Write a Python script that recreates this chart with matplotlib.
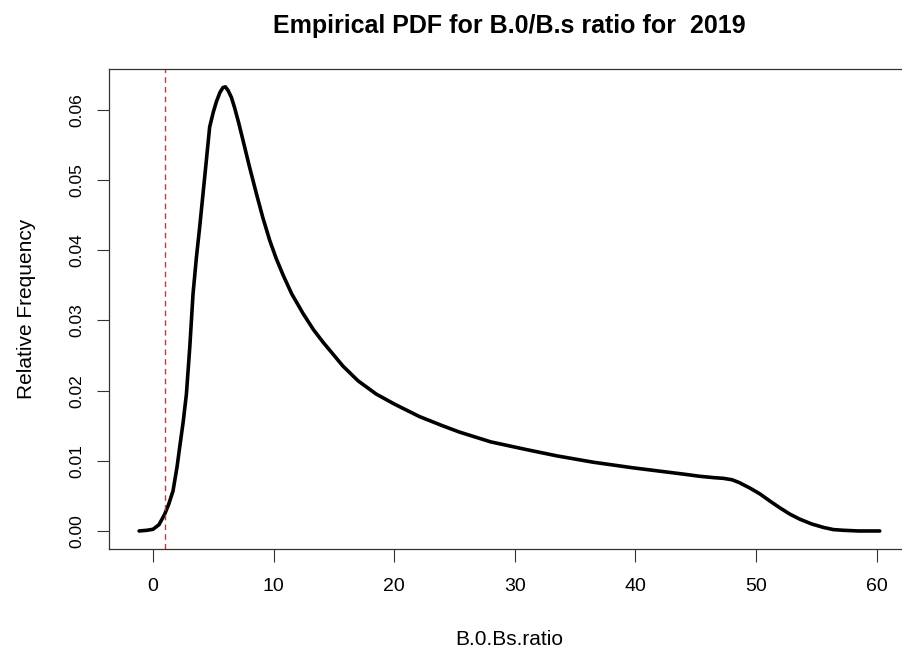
import matplotlib.pyplot as plt

plt.rcParams['font.family'] = ['Liberation Sans', 'DejaVu Sans']

# density estimate
ratio = [-1.15, -0.5, 0.0, 0.5, 0.97, 1.3, 1.66, 2.0, 2.21, 2.5, 2.77, 3.05, 3.32,
         3.6, 3.87, 4.29, 4.70, 5.0, 5.26, 5.55, 5.80, 6.0, 6.22, 6.5, 6.77, 7.1,
         7.46, 8.0, 8.57, 9.1, 9.68, 10.2, 10.78, 11.5, 12.44, 13.3, 14.1, 15.75,
         17.0, 18.52, 20.0, 22.1, 24.0, 25.4, 28.0, 30.96, 33.5, 36.5, 39.8, 42.6,
         44.0, 45.3, 46.5, 47.3, 48.0, 48.6, 49.5, 50.3, 51.2, 51.97, 52.8, 53.6,
         54.6, 55.6, 56.4, 57.2, 58.5, 60.25]
density = [0.0, 0.0001, 0.00024, 0.0009, 0.0024, 0.0038, 0.0057, 0.0092, 0.0119,
           0.0155, 0.0195, 0.0262, 0.0338, 0.0390, 0.0433, 0.0505, 0.0576, 0.0597,
           0.0612, 0.0625, 0.0632, 0.0633, 0.0628, 0.0618, 0.0603, 0.0582, 0.0557,
           0.0519, 0.0481, 0.0447, 0.0414, 0.0389, 0.0365, 0.0338, 0.0310, 0.0287,
           0.0269, 0.0235, 0.0214, 0.0195, 0.0181, 0.0163, 0.0150, 0.0141, 0.0127,
           0.0116, 0.0107, 0.0098, 0.0090, 0.0084, 0.0081, 0.0078, 0.0076, 0.0075,
           0.0073, 0.0069, 0.0061, 0.0053, 0.0042, 0.0033, 0.0024, 0.0017, 0.0010,
           0.0005, 0.0002, 0.0001, 0.0, 0.0]
cutoff = 1.0
xticks = [0, 10, 20, 30, 40, 50, 60]
yticks = [0.00, 0.01, 0.02, 0.03, 0.04, 0.05, 0.06]

fig = plt.figure(figsize=(9.02, 6.49), dpi=100)
ax = fig.add_axes([0.1212, 0.1545, 0.8877, 0.7387])

ax.plot(ratio, density, color='black', lw=2.6, solid_capstyle='round', solid_joinstyle='round')
ax.axvline(cutoff, color='#ff2020', ls=(0, (4, 3)), lw=1)

ax.set_xlim(-3.62, 62.76)
ax.set_ylim(-0.00253, 0.0658)
ax.set_xticks(xticks)
ax.set_xticklabels([str(t) for t in xticks])
ax.set_yticks(yticks)
ax.set_yticklabels(['%.2f' % t for t in yticks], rotation=90, va='center')
ax.tick_params(length=9, width=0.8, colors='#333333', labelcolor='black')
ax.tick_params(axis='x', labelsize=14, pad=12)
ax.tick_params(axis='y', labelsize=12.5, pad=9)
for s in ax.spines.values():
    s.set_linewidth(0.9)
    s.set_color('#333333')

ax.set_title('Empirical PDF for B.0/B.s ratio for  2019', fontsize=18,
             fontweight='bold', pad=26.5)
ax.set_xlabel('B.0.Bs.ratio', fontsize=15, labelpad=25)
ax.set_ylabel('Relative Frequency', fontsize=15, labelpad=24)

fig.savefig('out.png', dpi=100)
